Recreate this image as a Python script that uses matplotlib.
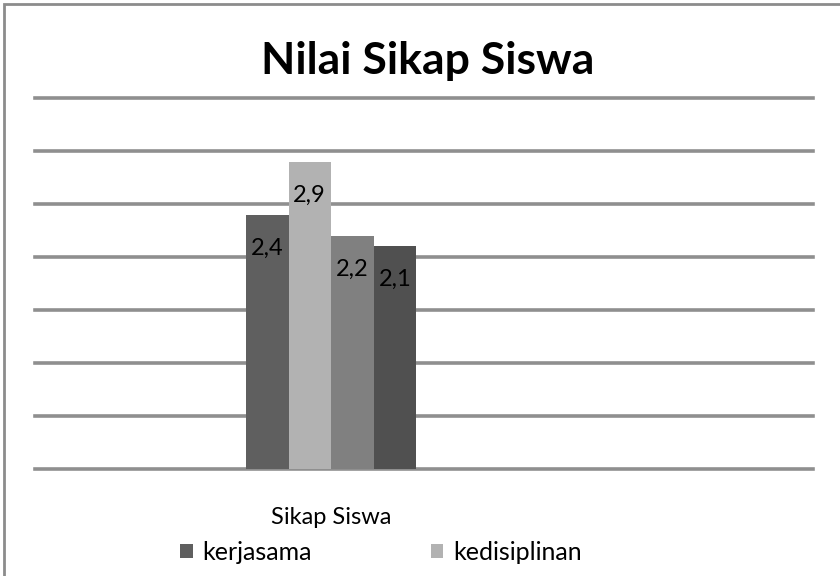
import matplotlib
matplotlib.use("Agg")

import matplotlib.pyplot as plt
from matplotlib.patches import Rectangle, Patch

title = "Nilai Sikap Siswa"
category = "Sikap Siswa"
values = [2.4, 2.9, 2.2, 2.1]
labels = ["2,4", "2,9", "2,2", "2,1"]
legend_names = ["kerjasama", "kedisiplinan"]
colors = ["#5f5f5f", "#b2b2b2", "#808080", "#505050"]
y_ticks = [0, 0.5, 1.0, 1.5, 2.0, 2.5, 3.0, 3.5]

plt.rcParams["font.family"] = ["Lato", "DejaVu Sans"]

W, H = 840, 576
fig = plt.figure(figsize=(W / 100, H / 100), dpi=100)
fig.patch.set_facecolor("white")

# outer chart border (right and bottom run off the picture)
fig.patches.append(Rectangle((4 / W, -0.1), 1.2, 1 - 4 / H + 0.1,
                             transform=fig.transFigure, fill=False,
                             edgecolor="#8c8c8c", linewidth=2))

# plot area in pixels
left, right, top, bottom = 35, 813, 98, 469
ax = fig.add_axes([left / W, 1 - bottom / H, (right - left) / W, (bottom - top) / H])
ax.set_facecolor("none")

bar_w = 0.2
px_per_unit = 42.5 / bar_w
center_px = 331
x0 = -(center_px - left) / px_per_unit
ax.set_xlim(x0, x0 + (right - left) / px_per_unit)
ax.set_ylim(0, 3.5)

for yv in y_ticks:
    ax.axhline(yv, color="#8f8f8f", linewidth=2.6, zorder=0, clip_on=False)

n = len(values)
for i, (v, lab, c) in enumerate(zip(values, labels, colors)):
    xc = (i - (n - 1) / 2) * bar_w
    ax.bar(xc, v, width=bar_w, color=c, zorder=2)
    ax.annotate(lab, (xc, v), xytext=(0, -24), textcoords="offset points",
                ha="center", va="center", fontsize=17, color="black", zorder=3)

ax.set_xticks([])
ax.set_yticks([])
for s in ax.spines.values():
    s.set_visible(False)

fig.text(428 / W, 1 - 61 / H, title, ha="center", va="center",
         fontsize=32, fontweight="bold")
fig.text(331 / W, 1 - 518 / H, category, ha="center", va="center", fontsize=17)

handles = [Patch(facecolor=colors[i], edgecolor="none") for i in range(len(legend_names))]
fig.legend(handles, legend_names, loc="center left",
           bbox_to_anchor=(180 / W, 1 - 552 / H), ncol=2, frameon=False,
           fontsize=18, handlelength=0.5, handleheight=0.5, handletextpad=0.4,
           columnspacing=4.75, borderaxespad=0, borderpad=0)

fig.savefig("out.png", dpi=100)
